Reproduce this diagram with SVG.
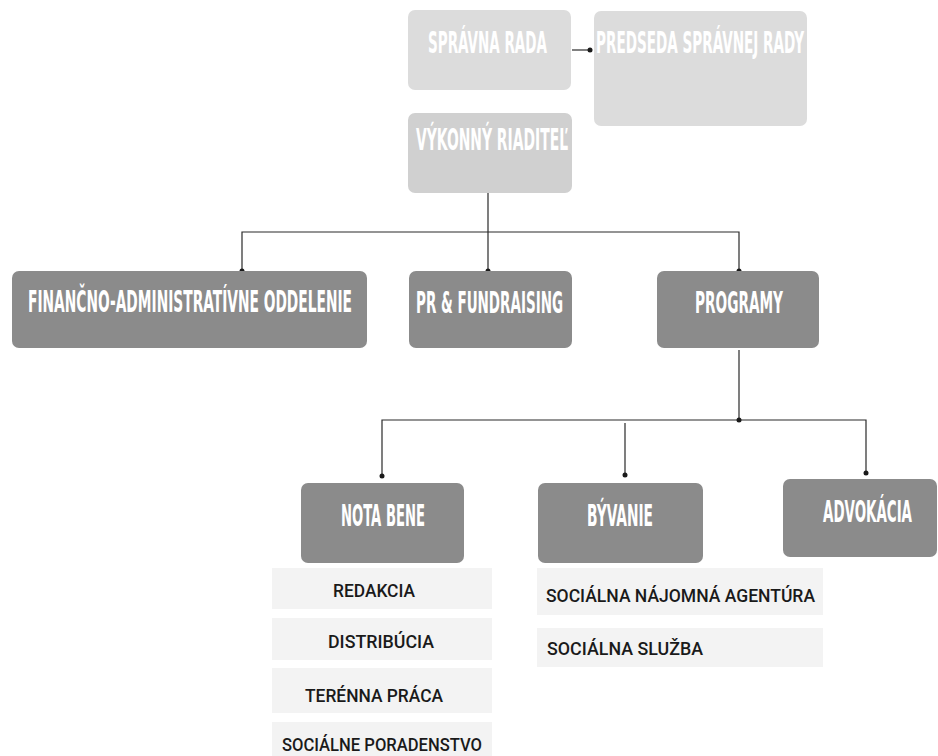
<svg xmlns="http://www.w3.org/2000/svg" width="938" height="756" viewBox="0 0 938 756">
<style>
.bg{fill:#ffffff}
.top{fill:#dcdcdc}
.exec{fill:#d0d0d0}
.dark{fill:#8b8b8b}
.band{fill:#f3f3f3}
.t{font-family:"DejaVu Sans Condensed","DejaVu Sans",sans-serif;font-weight:bold;font-size:30px;fill:#ffffff}
.i{font-family:Roboto,"DejaVu Sans",sans-serif;font-weight:500;font-size:18.5px;fill:#1a1a1a}
.ln{stroke:#2a2a2a;stroke-width:1.2;fill:none}
.dot{fill:#1a1a1a}
</style>
<rect class="bg" x="0" y="0" width="938" height="756"/>

<g id="connectors">
<path class="ln" d="M572 50H590"/>
<circle class="dot" cx="590" cy="50" r="2.5"/>
<path class="ln" d="M488 193V271M242 271V232H739V271"/>
<circle class="dot" cx="242" cy="271" r="2.5"/>
<circle class="dot" cx="488" cy="271" r="2.5"/>
<circle class="dot" cx="739" cy="271" r="2.5"/>
<path class="ln" d="M739 350V420M382 476V420H866V473M625 423V475"/>
<circle class="dot" cx="739" cy="420" r="2.5"/>
<circle class="dot" cx="382" cy="476" r="2.5"/>
<circle class="dot" cx="625" cy="475" r="2.5"/>
<circle class="dot" cx="866" cy="473" r="2.5"/>
</g>

<g id="spravna-rada">
<rect class="top" x="408" y="10" width="163" height="80" rx="7"/>
<text class="t" x="428" y="53" textLength="119" lengthAdjust="spacingAndGlyphs">SPRÁVNA RADA</text>
</g>
<g id="predseda">
<rect class="top" x="594" y="11" width="213" height="115" rx="7"/>
<text class="t" x="596" y="53" textLength="208" lengthAdjust="spacingAndGlyphs">PREDSEDA SPRÁVNEJ RADY</text>
</g>
<g id="vykonny-riaditel">
<rect class="exec" x="408" y="113" width="164" height="80" rx="7"/>
<text class="t" x="416" y="150" textLength="152" lengthAdjust="spacingAndGlyphs">VÝKONNÝ RIADITEĽ</text>
</g>

<g id="financne">
<rect class="dark" x="12" y="271" width="355" height="77" rx="7"/>
<text class="t" x="28" y="312" textLength="324" lengthAdjust="spacingAndGlyphs">FINANČNO-ADMINISTRATÍVNE ODDELENIE</text>
</g>
<g id="pr">
<rect class="dark" x="409" y="271" width="163" height="77" rx="7"/>
<text class="t" x="416" y="313" textLength="147" lengthAdjust="spacingAndGlyphs">PR &amp; FUNDRAISING</text>
</g>
<g id="programy">
<rect class="dark" x="657" y="271" width="162" height="77" rx="7"/>
<text class="t" x="695" y="313" textLength="88" lengthAdjust="spacingAndGlyphs">PROGRAMY</text>
</g>

<g id="nota-bene">
<rect class="dark" x="301" y="483" width="163" height="80" rx="7"/>
<text class="t" x="341" y="526" textLength="84" lengthAdjust="spacingAndGlyphs">NOTA BENE</text>
</g>
<g id="byvanie">
<rect class="dark" x="538" y="483" width="165" height="80" rx="7"/>
<text class="t" x="587" y="526" textLength="66" lengthAdjust="spacingAndGlyphs">BÝVANIE</text>
</g>
<g id="advokacia">
<rect class="dark" x="783" y="479" width="154" height="78" rx="7"/>
<text class="t" x="823" y="522" textLength="89" lengthAdjust="spacingAndGlyphs">ADVOKÁCIA</text>
</g>

<g id="nota-bene-items">
<rect class="band" x="272" y="568" width="220" height="41"/>
<rect class="band" x="272" y="618" width="220" height="42"/>
<rect class="band" x="272" y="668" width="220" height="45"/>
<rect class="band" x="272" y="722" width="220" height="34"/>
<text class="i" x="333" y="597" textLength="82" lengthAdjust="spacingAndGlyphs">REDAKCIA</text>
<text class="i" x="328" y="648" textLength="106" lengthAdjust="spacingAndGlyphs">DISTRIBÚCIA</text>
<text class="i" x="305" y="702" textLength="138" lengthAdjust="spacingAndGlyphs">TERÉNNA PRÁCA</text>
<text class="i" x="282" y="751" textLength="200" lengthAdjust="spacingAndGlyphs">SOCIÁLNE PORADENSTVO</text>
</g>
<g id="byvanie-items">
<rect class="band" x="537" y="568" width="286" height="47"/>
<rect class="band" x="537" y="628" width="286" height="39"/>
<text class="i" x="546" y="602" textLength="269" lengthAdjust="spacingAndGlyphs">SOCIÁLNA NÁJOMNÁ AGENTÚRA</text>
<text class="i" x="547" y="655" textLength="156" lengthAdjust="spacingAndGlyphs">SOCIÁLNA SLUŽBA</text>
</g>
</svg>
